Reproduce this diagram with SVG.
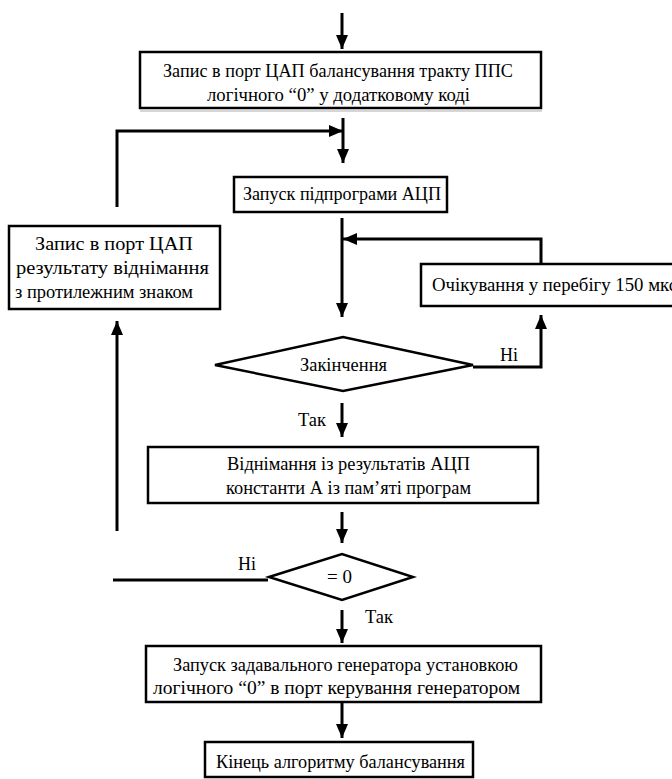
<svg xmlns="http://www.w3.org/2000/svg" width="672" height="779" viewBox="0 0 672 779">
  <style>
    .box { fill: #ffffff; stroke: #000000; stroke-width: 2.5; }
    .dia { fill: #ffffff; stroke: #000000; stroke-width: 2.5; stroke-linejoin: miter; }
    text { font-family: "Liberation Serif", "DejaVu Serif", "Times New Roman", serif; font-size: 18px; fill: #000000; }
    .wire { fill: none; stroke: #000000; stroke-width: 3; }
    .shade { stroke: #c8c8c8; stroke-width: 1.5; }
  </style>
  <defs>
    <marker id="head" markerUnits="userSpaceOnUse" markerWidth="16" markerHeight="12" refX="14" refY="6" orient="auto">
      <path d="M0,0 L14,6 L0,12 Z" fill="#000000"/>
    </marker>
  </defs>

  <rect width="672" height="779" fill="#ffffff"/>

  <!-- connectors -->
  <g id="connectors">
    <line class="wire" x1="342" y1="13" x2="342" y2="49" marker-end="url(#head)"/>
    <line class="wire" x1="343" y1="118" x2="343" y2="163" marker-end="url(#head)"/>
    <polyline class="wire" points="117,207 117,131 343,131" marker-end="url(#head)"/>
    <line class="wire" x1="342" y1="218" x2="342" y2="317" marker-end="url(#head)"/>
    <polyline class="wire" points="541,263 541,239 343,239" marker-end="url(#head)"/>
    <polyline class="wire" points="473,367 541,367 541,315" marker-end="url(#head)"/>
    <line class="wire" x1="342" y1="403" x2="342" y2="437" marker-end="url(#head)"/>
    <line class="wire" x1="342" y1="512" x2="342" y2="543" marker-end="url(#head)"/>
    <line class="wire" x1="113" y1="580" x2="268" y2="580"/>
    <line class="wire" x1="117" y1="531" x2="117" y2="321" marker-end="url(#head)"/>
    <line class="wire" x1="342" y1="610" x2="342" y2="643" marker-end="url(#head)"/>
    <line class="wire" x1="342" y1="703" x2="342" y2="738" marker-end="url(#head)"/>
    <text x="500" y="361" textLength="18" lengthAdjust="spacingAndGlyphs">Ні</text>
    <text x="298" y="426" textLength="28" lengthAdjust="spacingAndGlyphs">Так</text>
    <text x="238" y="570" textLength="18" lengthAdjust="spacingAndGlyphs">Ні</text>
    <text x="365" y="623" textLength="28" lengthAdjust="spacingAndGlyphs">Так</text>
  </g>

  <!-- write zero to DAC port -->
  <g id="n-dac-zero">
    <line class="shade" x1="140" y1="111" x2="542" y2="111"/>
    <rect class="box" x="140" y="52" width="401" height="56"/>
    <text x="163" y="77" textLength="350" lengthAdjust="spacingAndGlyphs">Запис в порт ЦАП балансування тракту ППС</text>
    <text x="207" y="101" textLength="263" lengthAdjust="spacingAndGlyphs">логічного “0” у додатковому коді</text>
  </g>

  <!-- ADC subroutine -->
  <g id="n-adc">
    <rect class="box" x="234" y="177" width="213" height="35"/>
    <text x="243" y="200" textLength="198" lengthAdjust="spacingAndGlyphs">Запуск підпрограми АЦП</text>
  </g>

  <!-- write negated difference -->
  <g id="n-dac-neg">
    <rect class="box" x="9" y="226" width="211" height="83"/>
    <text x="35" y="250" textLength="158" lengthAdjust="spacingAndGlyphs">Запис в порт ЦАП</text>
    <text x="16" y="274" textLength="193" lengthAdjust="spacingAndGlyphs">результату віднімання</text>
    <text x="15" y="298" textLength="178" lengthAdjust="spacingAndGlyphs">з протилежним знаком</text>
  </g>

  <!-- wait 150 us -->
  <g id="n-wait">
    <rect class="box" x="421" y="264" width="270" height="42"/>
    <text x="432" y="291" textLength="245" lengthAdjust="spacingAndGlyphs">Очікування у перебігу 150 мкс</text>
  </g>

  <!-- finished? -->
  <g id="n-done">
    <polygon class="dia" points="215,365 343,337 473,365 343,391"/>
    <text x="300" y="371" textLength="87" lengthAdjust="spacingAndGlyphs">Закінчення</text>
  </g>

  <!-- subtract constant A -->
  <g id="n-sub">
    <rect class="box" x="148" y="447" width="390" height="56"/>
    <text x="227" y="470" textLength="243" lengthAdjust="spacingAndGlyphs">Віднімання із результатів АЦП</text>
    <text x="226" y="494" textLength="245" lengthAdjust="spacingAndGlyphs">константи А  із пам’яті програм</text>
  </g>

  <!-- equals zero? -->
  <g id="n-zero">
    <polygon class="dia" points="269,577 342,554 413,577 342,600"/>
    <text x="327" y="583" textLength="25" lengthAdjust="spacingAndGlyphs">= 0</text>
  </g>

  <!-- start generator -->
  <g id="n-gen">
    <rect class="box" x="146" y="646" width="395" height="56"/>
    <text x="173" y="671" textLength="345" lengthAdjust="spacingAndGlyphs">Запуск задавального генератора установкою</text>
    <text x="153" y="694" textLength="367" lengthAdjust="spacingAndGlyphs">логічного “0” в порт керування генератором</text>
  </g>

  <!-- end -->
  <g id="n-end">
    <rect class="box" x="205" y="742" width="268" height="35"/>
    <text x="216" y="768" textLength="249" lengthAdjust="spacingAndGlyphs">Кінець алгоритму балансування</text>
  </g>
</svg>
